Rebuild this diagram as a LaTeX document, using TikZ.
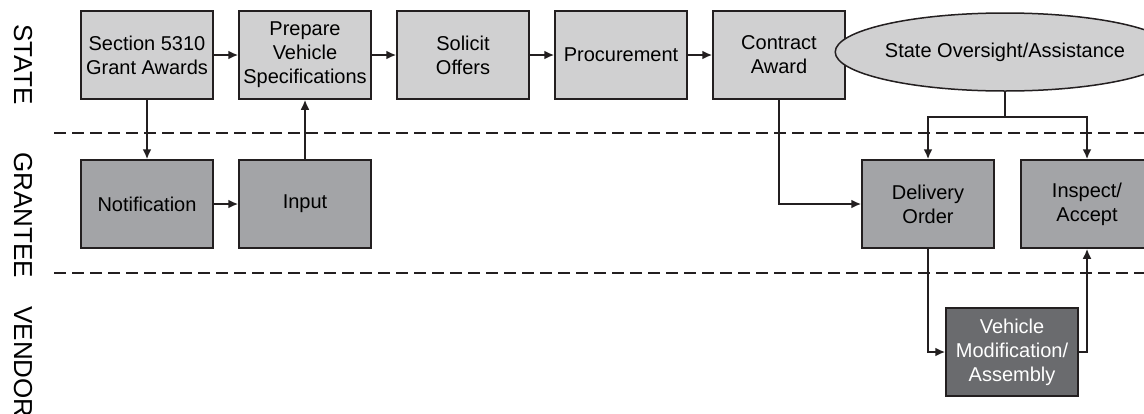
\documentclass[tikz,border=0pt]{standalone}
\usepackage{fontspec}
\setmainfont{Liberation Sans}
\usetikzlibrary{arrows.meta,positioning,calc,shapes.geometric}
\definecolor{stategray}{RGB}{208,208,209}
\definecolor{granteegray}{RGB}{163,164,167}
\definecolor{vendorgray}{RGB}{106,107,110}
\definecolor{inkgray}{RGB}{35,31,32}

\begin{document}
\begin{tikzpicture}[x=0.5pt, y=-0.5pt,
    task/.style={rectangle, draw=inkgray, line width=0.75pt, minimum width=66pt,
                 minimum height=44pt, align=center, inner sep=1pt,
                 font=\fontsize{10}{12}\selectfont},
    oval/.style={ellipse, draw=inkgray, line width=0.75pt, fill=stategray,
                 minimum width=141pt, minimum height=39pt, inner sep=0pt,
                 font=\fontsize{10}{12}\selectfont},
    arrow/.style={-{Latex[length=5pt,width=4.5pt]}, line width=1.2pt, inkgray},
    lane/.style={rotate=-90, anchor=west, inner sep=0pt,
                 font=\fontsize{13}{15}\selectfont},
    divider/.style={dash pattern=on 6pt off 3pt, line width=1.3pt, inkgray}]

\useasboundingbox[fill=white] (0,0) rectangle (1144,413);
\clip (0,0) rectangle (1144,413);

% Lanes
\node[lane] (statelane) at (23,24) {STATE};
\node[lane] (granteelane) at (23,152) {GRANTEE};
\node[lane] (vendorlane) at (23,306) {VENDOR};
\draw[divider] (54,133) -- (1144,133);
\draw[divider] (54,273) -- (1144,273);

% State row
\node[task, fill=stategray] (grant) at (147,55) {Section 5310\\Grant Awards};
\node[task, fill=stategray] (spec) at (305,55) {Prepare\\Vehicle\\Specifications};
\node[task, fill=stategray] (offers) at (463,55) {Solicit\\Offers};
\node[task, fill=stategray] (proc) at (621,55) {Procurement};
\node[task, fill=stategray] (award) at (779,55) {Contract\\Award};
\node[oval] (oversight) at (1005,52) {State Oversight/Assistance};

% Grantee row
\node[task, fill=granteegray] (notif) at (147,204) {Notification};
\node[task, fill=granteegray] (input) at (305,204) {Input};
\node[task, fill=granteegray] (delivery) at (928,204) {Delivery\\Order};
\node[task, fill=granteegray] (inspect) at (1087,204) {Inspect/\\Accept};

% Vendor row
\node[task, fill=vendorgray, text=white] (vehicle) at (1012,352) {Vehicle\\Modification/\\Assembly};

\draw[arrow] (grant) -- (spec);
\draw[arrow] (spec) -- (offers);
\draw[arrow] (offers) -- (proc);
\draw[arrow] (proc) -- (award);
\draw[arrow] (grant) -- (notif);
\draw[arrow] (notif) -- (input);
\draw[arrow] (input) -- (spec);
\draw[arrow] (award.south) |- (delivery.west);

% Oversight branches down to both grantee steps
\coordinate (branch) at ($(oversight.south)+(0,25)$);
\draw[line width=1.2pt, inkgray] (oversight.south) -- (branch);
\draw[arrow] (branch) -| (delivery.north);
\draw[arrow] (branch) -| (inspect.north);

\draw[arrow] (delivery.south) |- (vehicle.west);
\draw[arrow] (vehicle.east) -| (inspect.south);
\end{tikzpicture}
\end{document}
